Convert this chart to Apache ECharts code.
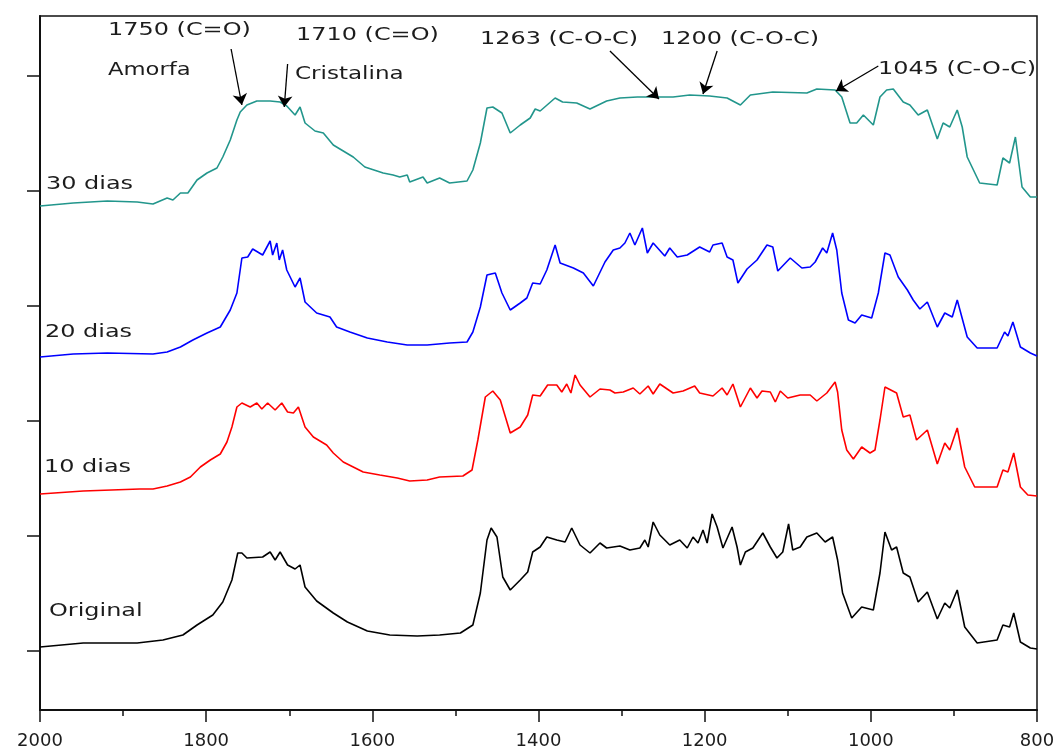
<!doctype html>
<html lang="pt">
<head>
    <meta charset="utf-8" />
    <title>FTIR</title>
    <script src="https://cdn.jsdelivr.net/npm/echarts@6/dist/echarts.min.js"></script>
    <style>
        html, body { margin: 0; padding: 0; background: #fff; }
        #chart { width: 1060px; height: 753px; }
    </style>
</head>
<body>
<div id="chart"></div>
<script>
    // [numero de onda (cm-1), transmitancia (u.a., curvas deslocadas)]
    var dias30 = [
        [2000,502],[1960,505],[1919,507],[1883,506],[1864,504],[1847,510],[1840,508],[1831,515],[1822,515],
        [1811,528],[1799,535],[1787,540],[1780,551],[1771,568],[1763,588],[1759,596],[1751,603],[1739,607],
        [1723,607],[1711,606],[1703,602],[1693,593],[1687,601],[1681,585],[1669,577],[1659,575],[1647,563],
        [1635,557],[1623,551],[1609,541],[1587,535],[1575,533],[1567,531],[1558,533],[1555,526],[1539,531],
        [1534,525],[1519,530],[1507,525],[1486,527],[1479,538],[1470,565],[1462,600],[1455,601],[1444,595],
        [1434,575],[1422,583],[1410,590],[1404,599],[1398,597],[1380,610],[1371,606],[1354,605],[1338,599],
        [1318,607],[1302,610],[1281,611],[1254,611],[1238,611],[1218,613],[1194,612],[1173,610],[1157,603],
        [1145,613],[1118,616],[1077,615],[1065,619],[1043,618],[1035,611],[1025,585],[1017,585],[1009,593],
        [997,583],[989,611],[981,618],[973,619],[961,606],[953,603],[943,593],[932,598],[920,569],[913,585],
        [905,581],[896,598],[890,581],[884,551],[869,525],[848,523],[841,550],[833,545],[826,571],[818,521],
        [808,511],[800,511]
    ];
    var dias20 = [
        [2000,351],[1960,354],[1919,355],[1864,354],[1847,356],[1831,361],[1816,368],[1799,375],[1783,381],
        [1771,398],[1763,415],[1757,450],[1750,451],[1744,459],[1732,453],[1723,467],[1720,453],[1715,465],
        [1712,448],[1708,458],[1703,438],[1693,421],[1687,430],[1681,406],[1667,395],[1651,391],[1643,381],
        [1627,376],[1606,370],[1582,366],[1558,363],[1534,363],[1507,365],[1486,366],[1479,376],[1470,401],
        [1462,433],[1452,435],[1444,415],[1434,398],[1422,405],[1414,410],[1407,425],[1398,424],[1390,438],
        [1380,463],[1374,445],[1358,440],[1346,435],[1334,422],[1320,446],[1310,458],[1302,460],[1296,465],
        [1290,475],[1284,463],[1275,480],[1269,455],[1262,465],[1248,452],[1242,460],[1233,451],[1221,453],
        [1206,461],[1194,456],[1190,463],[1179,465],[1173,451],[1166,448],[1160,425],[1149,439],[1137,448],
        [1125,463],[1118,461],[1112,437],[1097,450],[1083,440],[1073,441],[1067,446],[1058,460],[1053,455],
        [1046,475],[1041,458],[1035,415],[1027,388],[1019,385],[1011,393],[999,390],[991,415],[983,455],
        [977,453],[967,431],[956,418],[949,408],[941,399],[932,406],[920,381],[911,395],[902,391],[896,408],
        [884,371],[872,360],[848,360],[839,376],[835,372],[829,386],[820,361],[808,355],[800,352]
    ];
    var dias10 = [
        [2000,214],[1948,217],[1880,219],[1864,219],[1847,222],[1831,226],[1819,231],[1807,241],[1795,248],
        [1783,254],[1775,266],[1769,281],[1763,301],[1757,305],[1747,301],[1739,305],[1733,299],[1726,305],
        [1717,298],[1709,305],[1702,296],[1695,295],[1689,301],[1681,281],[1671,271],[1655,263],[1647,255],
        [1635,246],[1611,236],[1591,233],[1570,230],[1555,227],[1534,228],[1519,231],[1491,232],[1480,238],
        [1473,268],[1464,311],[1455,317],[1446,308],[1434,275],[1422,281],[1413,293],[1407,313],[1398,312],
        [1389,323],[1378,323],[1372,316],[1366,324],[1361,315],[1356,333],[1350,323],[1338,311],[1326,319],
        [1314,318],[1308,315],[1298,316],[1286,320],[1278,314],[1268,322],[1262,314],[1254,324],[1238,315],
        [1226,317],[1212,322],[1206,315],[1190,312],[1179,320],[1173,313],[1166,324],[1157,301],[1145,320],
        [1137,310],[1131,317],[1121,316],[1115,306],[1109,317],[1100,310],[1085,313],[1073,313],[1065,307],
        [1053,315],[1043,326],[1040,316],[1035,278],[1029,258],[1021,249],[1011,261],[1001,255],[995,258],
        [989,288],[983,321],[969,315],[961,291],[953,293],[945,268],[932,278],[920,244],[911,265],[905,258],
        [896,280],[887,241],[875,221],[848,221],[841,238],[835,236],[828,255],[820,221],[811,213],[800,212]
    ];
    var original = [
        [2000,61],[1948,65],[1883,65],[1852,68],[1828,73],[1811,83],[1792,93],[1780,106],[1769,128],
        [1762,155],[1757,155],[1751,150],[1732,151],[1723,156],[1717,148],[1711,156],[1702,143],[1693,139],
        [1687,143],[1681,121],[1667,107],[1647,95],[1630,86],[1606,77],[1579,73],[1546,72],[1519,73],
        [1494,75],[1479,83],[1470,115],[1462,168],[1457,180],[1450,171],[1443,131],[1434,118],[1422,128],
        [1413,136],[1407,156],[1398,161],[1390,171],[1378,168],[1368,166],[1360,180],[1350,163],[1338,155],
        [1326,165],[1318,160],[1302,162],[1290,158],[1278,160],[1272,168],[1268,161],[1262,186],[1254,173],
        [1242,163],[1230,168],[1221,160],[1214,171],[1208,165],[1202,178],[1197,165],[1191,194],[1185,181],
        [1178,160],[1167,181],[1161,161],[1157,143],[1151,156],[1142,160],[1130,175],[1121,161],[1113,150],
        [1106,156],[1099,184],[1094,158],[1085,161],[1077,171],[1065,175],[1055,166],[1046,171],[1040,148],
        [1034,115],[1023,90],[1011,101],[997,98],[989,135],[983,176],[975,158],[969,161],[961,135],[953,131],
        [943,106],[932,116],[920,89],[911,105],[905,100],[896,118],[887,81],[872,65],[848,68],[841,83],
        [833,81],[828,95],[820,66],[808,60],[800,59]
    ];

    var xTicks = [800, 2000, 200];          // min, max, intervalo
    var yTickValues = [57, 172, 287, 402, 517, 632];

    // setas: [inicio, ponta] em coordenadas (cm-1, u.a.)
    var arrows = [
        [[1770, 659], [1757, 603]],
        [[1702, 644], [1706, 601]],
        [[1314, 657], [1255, 609]],
        [[1185, 657], [1202, 614]],
        [[991, 642], [1042, 617]]
    ];

    var textFont = '18px "DejaVu Sans"';
    function label(txt, left, cy, sx) {
        return {
            type: 'text',
            x: left,
            y: cy,
            scaleX: sx || 1.33,
            silent: true,
            z: 100,
            style: {
                text: txt,
                font: textFont,
                fill: '#1c1c1c',
                textAlign: 'left',
                textVerticalAlign: 'middle',
                align: 'left',
                verticalAlign: 'middle'
            }
        };
    }

    function line(name, data, color) {
        return {
            name: name,
            type: 'line',
            data: data,
            showSymbol: false,
            symbol: 'none',
            animation: false,
            lineStyle: { color: color, width: 1.6 },
            itemStyle: { color: color }
        };
    }

    var series = [
        line('30 dias', dias30, '#22968c'),
        line('20 dias', dias20, '#0000ff'),
        line('10 dias', dias10, '#ff0000'),
        line('Original', original, '#000000')
    ];
    series[0].markLine = {
        silent: true,
        animation: false,
        symbol: ['none', 'arrow'],
        symbolSize: 11,
        label: { show: false },
        lineStyle: { color: '#000', width: 1.3, type: 'solid' },
        data: arrows.map(function (a) {
            return [{ coord: a[0] }, { coord: a[1] }];
        })
    };

    var chart = echarts.init(document.getElementById('chart'));
    chart.setOption({
        backgroundColor: '#fff',
        animation: false,
        grid: {
            left: 40, right: 23, top: 16, bottom: 43,
            show: true, borderColor: '#111', borderWidth: 1.5, backgroundColor: 'transparent'
        },
        xAxis: {
            type: 'value',
            inverse: true,
            min: xTicks[0],
            max: xTicks[1],
            interval: xTicks[2],
            axisLine: { show: true, onZero: false, lineStyle: { color: '#111', width: 2 } },
            axisTick: { show: true, length: 12, lineStyle: { color: '#111', width: 1.5 } },
            minorTick: { show: true, splitNumber: 2, length: 6, lineStyle: { color: '#111', width: 1.5 } },
            axisLabel: {
                show: true, margin: 22, color: '#1c1c1c',
                fontFamily: 'DejaVu Sans', fontSize: 18,
                showMinLabel: true, showMaxLabel: true,
                formatter: function (v) { return String(v); }
            },
            splitLine: { show: false }
        },
        yAxis: {
            type: 'value',
            min: -2,
            max: 692,
            axisLine: { show: true, lineStyle: { color: '#111', width: 2 } },
            axisTick: {
                show: true, length: 13, customValues: yTickValues,
                lineStyle: { color: '#111', width: 1.5 }
            },
            axisLabel: { show: false },
            splitLine: { show: false }
        },
        series: series,
        graphic: [
            label('1750 (C=O)', 108, 30),
            label('1710 (C=O)', 296, 35),
            label('Amorfa', 108, 70, 1.26),
            label('Cristalina', 295, 74, 1.28),
            label('1263 (C-O-C)', 480, 39),
            label('1200 (C-O-C)', 661, 39),
            label('1045 (C-O-C)', 878, 69),
            label('30 dias', 46, 184),
            label('20 dias', 45, 332),
            label('10 dias', 44, 467),
            label('Original', 49, 611)
        ]
    });
</script>
</body>
</html>
